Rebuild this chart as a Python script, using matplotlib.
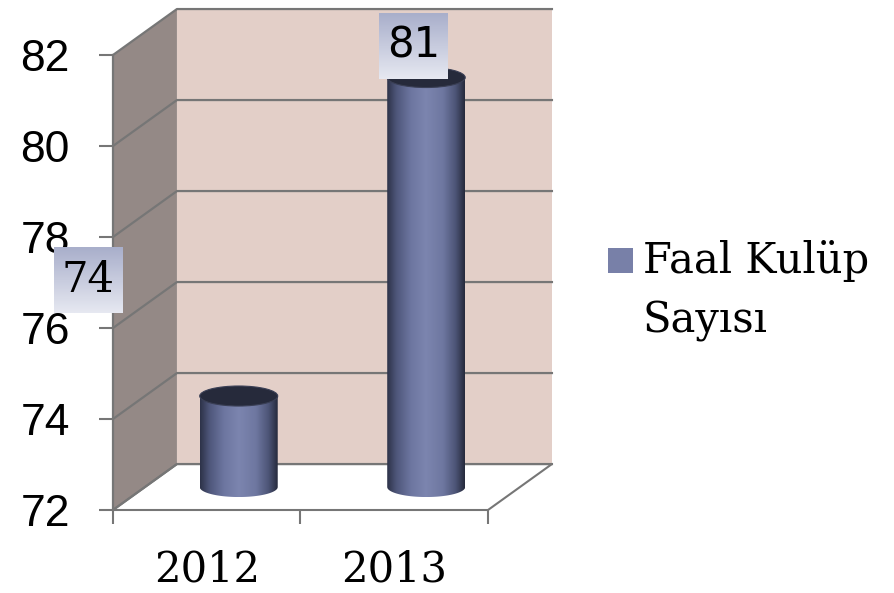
import numpy as np
import matplotlib
matplotlib.use("Agg")
import matplotlib.pyplot as plt
from matplotlib.patches import Polygon, Ellipse, Rectangle
from matplotlib.colors import LinearSegmentedColormap

# data
years = ["2012", "2013"]
values = [74, 81]
label_text = ["74", "81"]
series_name = "Faal Kulüp\nSayısı"
y_min, y_max, y_step = 72, 82, 2

W, H = 895, 593
fig = plt.figure(figsize=(W / 100, H / 100), dpi=100)
ax = fig.add_axes([113 / W, (H - 510) / H, 375 / W, 455 / H])
ax.set_xlim(0, len(years))
ax.set_ylim(y_min, y_max)

# depth offset of the 3d box (in data units)
dx, dy = 0.341, 1.01
grid_c = "#767676"

# back wall and side wall
ax.add_patch(Polygon([(dx, y_min + dy), (len(years) + dx, y_min + dy),
                      (len(years) + dx, y_max + dy), (dx, y_max + dy)],
                     closed=True, fc="#e3cfc8", ec="none", clip_on=False, zorder=0))
ax.add_patch(Polygon([(0, y_min), (dx, y_min + dy), (dx, y_max + dy), (0, y_max)],
                     closed=True, fc="#948986", ec="none", clip_on=False, zorder=0))
# floor
ax.add_patch(Polygon([(0, y_min), (len(years), y_min), (len(years) + dx, y_min + dy),
                      (dx, y_min + dy)],
                     closed=True, fc="white", ec=grid_c, lw=1.5, clip_on=False, zorder=1))

for t in np.arange(y_min, y_max + 0.1, y_step):
    ax.plot([0, dx, len(years) + dx], [t, t + dy, t + dy], color=grid_c, lw=1.6,
            clip_on=False, zorder=1)
ax.plot([0, 0], [y_min, y_max], color=grid_c, lw=1.6, clip_on=False, zorder=1)

# cylinders
cmap = LinearSegmentedColormap.from_list("cyl", [
    (0.0, "#2d3248"), (0.12, "#4e567a"), (0.3, "#6c759f"), (0.5, "#7c85af"),
    (0.72, "#6e77a0"), (0.88, "#4d5577"), (1.0, "#262a3c")])
grad = np.linspace(0, 1, 256).reshape(1, -1)
bw = 0.416
ry = 0.22
for i, v in enumerate(values):
    cx = i + 0.5 + dx / 2
    x0, x1 = cx - bw / 2, cx + bw / 2
    yb, yt = y_min + dy / 2, v + dy / 2
    th = np.linspace(np.pi, 2 * np.pi, 60)
    pts = [(x0, yt)] + [(cx + bw / 2 * np.cos(a), yb + ry * np.sin(a)) for a in th] + [(x1, yt)]
    clip = Polygon(pts, closed=True, fc="none", ec="none", transform=ax.transData)
    ax.add_patch(clip)
    im = ax.imshow(grad, cmap=cmap, aspect="auto", extent=[x0, x1, yb - ry, yt],
                   zorder=3, clip_on=True)
    im.set_clip_path(clip)
    ax.add_patch(Ellipse((cx, yt), bw, 2 * ry, fc="#262a3b", ec="#3a3f55", lw=0.8, zorder=4))

# data labels (boxed with a light gradient)
label_pos = [(-0.133, 77.05), (1.605, 82.2)]
label_fonts = ["DejaVu Serif", "DejaVu Sans"]
box_cmap = LinearSegmentedColormap.from_list("box", ["#e6e8f1", "#a9afcb"])
for txt, (lx, ly), fam in zip(label_text, label_pos, label_fonts):
    bwid, bhei = 0.368, 1.45
    ax.imshow(np.linspace(0, 1, 50).reshape(-1, 1), cmap=box_cmap, aspect="auto",
              origin="lower", extent=[lx - bwid / 2, lx + bwid / 2, ly - bhei / 2, ly + bhei / 2],
              zorder=6, clip_on=False)
    ax.text(lx, ly, txt, ha="center", va="center", fontsize=30, family=fam,
            color="black", zorder=7)
ax.set_xlim(0, len(years))
ax.set_ylim(y_min, y_max)

# axes ticks
for s in ax.spines.values():
    s.set_visible(False)
ax.set_yticks(np.arange(y_min, y_max + 0.1, y_step))
ax.set_yticklabels([str(t) for t in range(y_min, y_max + 1, y_step)],
                   family="Liberation Sans", fontsize=32)
ax.tick_params(axis="y", length=10, width=1.5, color=grid_c, pad=21)
ax.set_xticks(range(len(years) + 1))
ax.set_xticklabels([])
ax.tick_params(axis="x", length=10, width=1.5, color=grid_c)
ax.set_xticks([i + 0.5 for i in range(len(years))], minor=True)
ax.set_xticklabels(years, minor=True, family="DejaVu Serif", fontsize=30)
ax.tick_params(axis="x", which="minor", length=0, pad=28)

# legend
fig.patches.append(Rectangle((608 / W, (H - 273) / H), 25 / W, 25 / H, fc="#7880a8",
                             ec="none", transform=fig.transFigure, figure=fig))
for k, line in enumerate(series_name.split("\n")):
    fig.text(643 / W, (H - 273 - 59 * k) / H, line, ha="left", va="baseline",
             family="DejaVu Serif", fontsize=30)
fig.savefig("out.png", dpi=100)
